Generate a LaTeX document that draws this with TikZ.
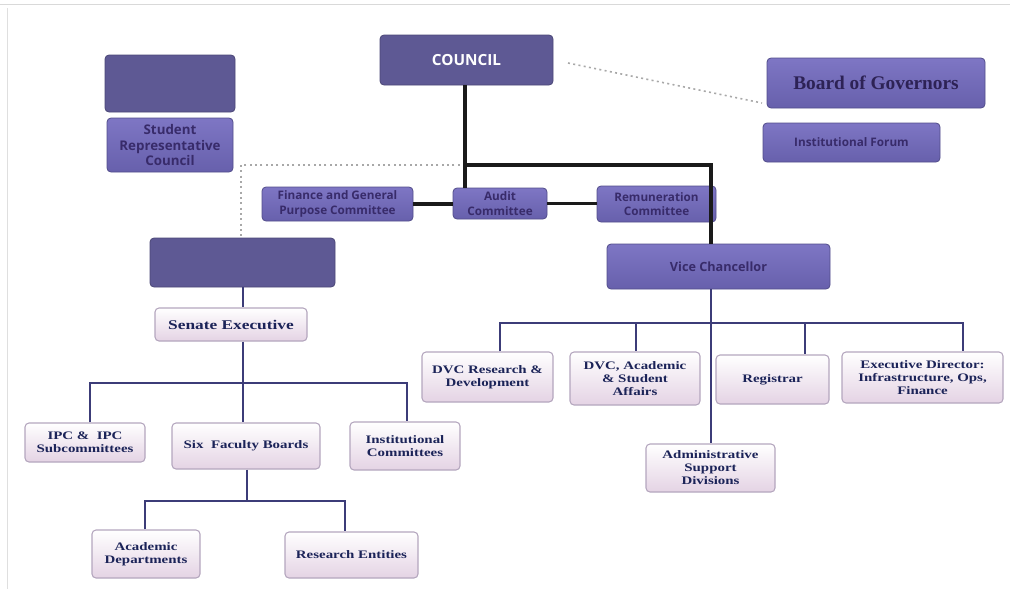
\documentclass[tikz,border=0pt]{standalone}
\usepackage{fontspec}
\setmainfont{Liberation Serif}
\newfontfamily\sansf{Open Sans}
\newfontfamily\wserif[FakeStretch=1.3]{Liberation Serif}
\definecolor{darkp}{HTML}{5E5994}
\definecolor{midtop}{HTML}{7E76C4}
\definecolor{midbot}{HTML}{6760AC}
\definecolor{midtxt}{HTML}{382B6A}
\definecolor{lightbot}{HTML}{E4D3E4}
\definecolor{lightdraw}{HTML}{B4A6BE}
\definecolor{navytxt}{HTML}{1B2358}
\definecolor{navyline}{HTML}{3C3C78}
\definecolor{blk}{HTML}{1A1A1A}
\definecolor{dotg}{HTML}{A8A8A8}
\tikzset{
  darkbox/.style={draw=darkp!80!black, fill=darkp, rounded corners=3pt, line width=0.6pt, inner sep=2pt},
  midbox/.style={draw=midbot!80!black, top color=midtop, bottom color=midbot, rounded corners=3pt, line width=0.6pt, inner sep=1pt, align=center, text=midtxt, font=\sansf\bfseries\fontsize{8.8}{11}\selectfont},
  lightbox/.style={draw=lightdraw, top color=white, bottom color=lightbot, rounded corners=3pt, line width=0.8pt, inner sep=1pt, align=center, text=navytxt, font=\wserif\bfseries\fontsize{8.6}{9.8}\selectfont},
  blkline/.style={draw=blk, line width=2.3pt},
  navline/.style={draw=navyline, line width=2.2pt},
  dotline/.style={draw=dotg, line width=1.2pt, dash pattern=on 1.5pt off 2.5pt}
}
\begin{document}
\begin{tikzpicture}[x=0.75pt,y=-0.75pt]
\useasboundingbox (0,0) rectangle (1010,589);
% faint page frame
\draw[gray!30, line width=0.6pt] (0,4) -- (1010,4);
\draw[gray!25, line width=0.6pt] (7,8) -- (7,589);

% top-left blank + SRC
\node[darkbox, minimum width=97.5pt, minimum height=42.75pt] (blankA) at (170,83.5) {};
\node[midbox, minimum width=94.5pt, minimum height=40.5pt, font=\sansf\bfseries\fontsize{10}{11.3}\selectfont] (src) at (170,145) {Student\\Representative\\Council};

% council
\node[darkbox, fill=darkp, minimum width=129.75pt, minimum height=37.5pt, text=white, font=\sansf\bfseries\fontsize{11.5}{13}\selectfont] (council) at (466.5,60) {COUNCIL};

% board of governors, institutional forum
\node[midbox, minimum width=163.5pt, minimum height=37.5pt, text=midtxt!80!black, font=\bfseries\fontsize{14.5}{16}\selectfont] (bog) at (876,83) {Board of Governors};
\node[midbox, minimum width=132.75pt, minimum height=29.25pt] (ifor) at (851.5,142.5) {Institutional Forum};

% committees
\node[midbox, minimum width=113.25pt, minimum height=25.5pt] (fin) at (337.5,204) {Finance and General\\Purpose Committee};
\node[midbox, minimum width=70.5pt, minimum height=23.25pt] (audit) at (500,203.5) {Audit\\Committee};
\node[midbox, minimum width=89.25pt, minimum height=27pt] (rem) at (656.5,204) {Remuneration\\Committee};

% vice chancellor
\node[midbox, minimum width=167.25pt, minimum height=33.75pt, font=\sansf\bfseries\fontsize{9.5}{11}\selectfont] (vc) at (718.5,266.5) {Vice Chancellor};

% senate blank + senate exec
\node[darkbox, minimum width=138.75pt, minimum height=36.75pt] (senate) at (242.5,262.5) {};
\node[lightbox, minimum width=114pt, minimum height=24.75pt, font=\wserif\bfseries\fontsize{10}{11}\selectfont] (sexec) at (231,324.5) {Senate Executive};

% senate children
\node[lightbox, minimum width=90pt, minimum height=29.25pt] (ipc) at (85,442.5) {IPC \&\ \ IPC\\Subcommittees};
\node[lightbox, minimum width=111pt, minimum height=34.5pt] (six) at (246,446) {Six\ \ Faculty Boards};
\node[lightbox, minimum width=82.5pt, minimum height=36pt] (inst) at (405,446) {Institutional\\Committees};
\node[lightbox, minimum width=81pt, minimum height=36pt] (acad) at (146,554) {Academic\\Departments};
\node[lightbox, minimum width=99.75pt, minimum height=34.5pt] (res) at (351.5,555) {Research Entities};

% VC children
\node[lightbox, minimum width=98.25pt, minimum height=37.5pt] (dvcr) at (487.5,377) {DVC Research \&\\Development};
\node[lightbox, minimum width=97.5pt, minimum height=39.75pt] (dvca) at (635,378.5) {DVC, Academic\\\& Student\\Affairs};
\node[lightbox, minimum width=84.75pt, minimum height=36.75pt] (reg) at (772.5,379.5) {Registrar};
\node[lightbox, minimum width=120.75pt, minimum height=38.25pt] (exd) at (922.5,377.5) {Executive Director:\\Infrastructure, Ops,\\Finance};
\node[lightbox, minimum width=96.75pt, minimum height=36pt] (adm) at (710.5,468) {Administrative\\Support\\Divisions};

% dotted links
\coordinate (dA) at (568,63);
\coordinate (dB) at (762,103);
\draw[dotline] (dA) -- (dB);
\coordinate (dC) at (465,165);
\coordinate (dD) at (241,165);
\draw[dotline] (dC) -- (dD) -- (dD |- senate.north);

% black council links
\coordinate (cj) at (465,165);
\coordinate (vcx) at (711,165);
\draw[blkline] (council.south -| cj) -- (cj |- audit.north);
\draw[blkline] (cj) -- (vcx) -- (vcx |- vc.north);
\draw[blkline] (fin.east) -- (fin.east -| audit.west);
\draw[blkline] (audit.east) -- (audit.east -| rem.west);

% senate tree
\coordinate (sx) at (243,383);
\draw[navline] (sx |- senate.south) -- (sx |- sexec.north);
\draw[navline] (sx |- sexec.south) -- (sx);
\coordinate (s1) at (90,383);
\coordinate (s3) at (407,383);
\draw[navline] (s1 |- ipc.north) -- (s1) -- (s3) -- (s3 |- inst.north);
\draw[navline] (sx) -- (sx |- six.north);
\coordinate (fx) at (247,501);
\coordinate (f1) at (145,501);
\coordinate (f2) at (345,501);
\draw[navline] (fx |- six.south) -- (fx);
\draw[navline] (f1 |- acad.north) -- (f1) -- (f2) -- (f2 |- res.north);

% VC tree
\coordinate (vx) at (711,323);
\coordinate (v1) at (500,323);
\coordinate (v2) at (636,323);
\coordinate (v3) at (805,323);
\coordinate (v4) at (963,323);
\draw[navline] (vx |- vc.south) -- (vx |- adm.north);
\draw[navline] (v1 |- dvcr.north) -- (v1) -- (v4) -- (v4 |- exd.north);
\draw[navline] (v2) -- (v2 |- dvca.north);
\draw[navline] (v3) -- (v3 |- reg.north);
\end{tikzpicture}
\end{document}
